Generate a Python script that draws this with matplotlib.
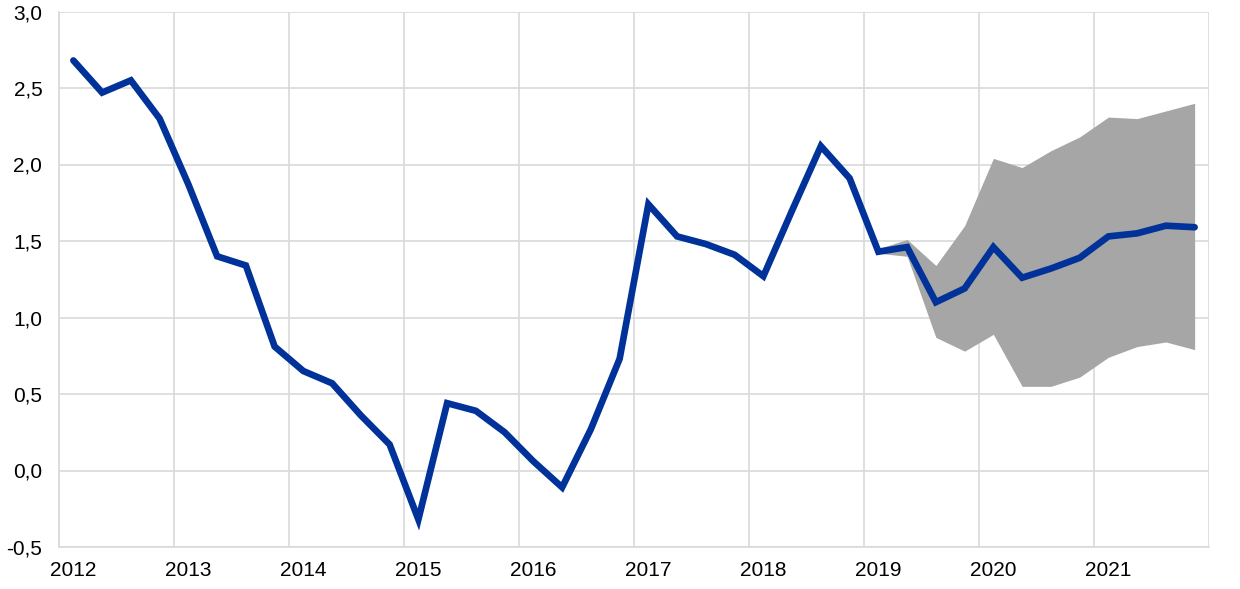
import numpy as np
import matplotlib.pyplot as plt
from matplotlib.ticker import FixedLocator, FuncFormatter

plt.rcParams['font.family'] = ['Liberation Sans', 'DejaVu Sans']

# quarterly observations 2012 Q1 - 2021 Q4
years = ['2012', '2013', '2014', '2015', '2016', '2017', '2018', '2019', '2020', '2021']
values = [2.68, 2.47, 2.55, 2.30, 1.87, 1.40, 1.34, 0.81,
          0.65, 0.57, 0.36, 0.17, -0.32, 0.44, 0.39, 0.25,
          0.06, -0.11, 0.27, 0.73, 1.74, 1.53, 1.48, 1.41,
          1.27, 1.70, 2.12, 1.91, 1.43, 1.46, 1.10, 1.19,
          1.46, 1.26, 1.32, 1.39, 1.53, 1.55, 1.60, 1.59]

# uncertainty band, from 2019 Q1 on
band_start = 28
band_upper = [1.45, 1.51, 1.34, 1.60, 2.04, 1.98, 2.09, 2.18, 2.31, 2.30, 2.35, 2.40]
band_lower = [1.42, 1.40, 0.87, 0.78, 0.89, 0.55, 0.55, 0.61, 0.74, 0.81, 0.84, 0.79]

x = np.arange(len(values)) + 0.5
xb = x[band_start:band_start + len(band_upper)]

fig = plt.figure(figsize=(12.4, 5.89), dpi=100)
ax = fig.add_axes([59 / 1240, 1 - 547 / 589, 1150 / 1240, 535.5 / 589])

ax.fill_between(xb, band_lower, band_upper, color='#a6a6a6', linewidth=0, zorder=2)
ax.plot(x, values, color='#003299', linewidth=4.8, solid_capstyle='round',
        solid_joinstyle='miter', zorder=3)

ax.set_xlim(0, 40)
ax.set_ylim(-0.5, 3.0)

# gridlines at year boundaries, labels on first quarter of each year
ax.xaxis.set_major_locator(FixedLocator(np.arange(0, 41, 4)))
ax.xaxis.set_major_formatter(FuncFormatter(lambda v, p: ''))
ax.xaxis.set_minor_locator(FixedLocator(np.arange(len(years)) * 4 + 0.5))
ax.set_xticklabels(years, minor=True)
ax.tick_params(axis='x', which='both', length=0, pad=10, labelsize=15)

ax.set_yticks(np.arange(-0.5, 3.01, 0.5))
ax.yaxis.set_major_formatter(FuncFormatter(lambda v, p: ('%.1f' % v).replace('.', ',')))
ax.tick_params(axis='y', length=0, pad=12, labelsize=15)

ax.grid(True, which='major', color='#d9d9d9', linewidth=1.2)
ax.set_axisbelow(True)
for s in ['top', 'right']:
    ax.spines[s].set_visible(False)
for s in ['left', 'bottom']:
    ax.spines[s].set_color('#d9d9d9')
    ax.spines[s].set_linewidth(1.2)

fig.savefig('out.png', dpi=100)
